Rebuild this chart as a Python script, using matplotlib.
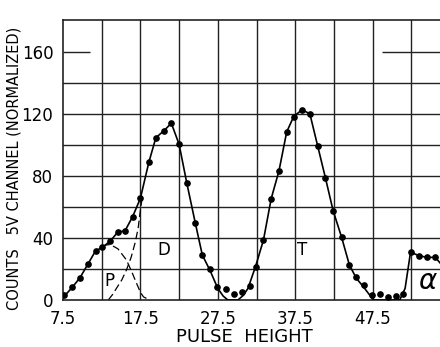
import numpy as np
import matplotlib.pyplot as plt

# measured points (pulse height channel, normalized counts)
x_pts = [7.6, 8.7, 9.7, 10.7, 11.7, 12.6, 13.6, 14.6, 15.5, 16.5,
         17.5, 18.6, 19.5, 20.5, 21.5, 22.5, 23.5, 24.6, 25.5, 26.5,
         27.4, 28.5, 29.6, 30.6, 31.6, 32.4, 33.4, 34.4, 35.4, 36.4,
         37.3, 38.4, 39.4, 40.4, 41.4, 42.4, 43.5, 44.5, 45.4, 46.4,
         47.4, 48.5, 49.5, 50.5, 51.4, 52.4, 53.5, 54.5, 55.6]
y_pts = [3.2, 8.2, 14.4, 23.0, 31.6, 34.0, 38.0, 43.9, 44.5, 53.8,
         65.6, 89.0, 104.7, 109.0, 114.0, 100.4, 75.3, 49.5, 29.0, 20.0,
         8.2, 6.9, 3.9, 5.2, 9.2, 21.5, 38.7, 65.4, 83.2, 108.4,
         118.3, 122.8, 120.0, 99.4, 78.9, 57.6, 40.4, 22.6, 14.6, 9.7,
         3.2, 3.7, 2.2, 2.6, 3.9, 30.8, 28.6, 27.5, 27.5]

# hand drawn fit curve through the data
x_fit = [7.5, 8.7, 9.7, 10.7, 11.7, 12.6, 13.6, 14.6, 15.5, 16.5,
         17.5, 18.6, 19.5, 20.5, 21.5, 22.5, 23.5, 24.6, 25.5, 26.5,
         27.5, 28.2, 28.8, 30.1, 30.8, 31.4, 32.4, 33.4, 34.4, 35.4,
         36.4, 37.3, 38.4, 39.4, 40.4, 41.4, 42.4, 43.5, 44.5, 45.4,
         46.3, 47.0, 47.6, 51.0, 51.7, 52.4, 53.5, 54.5, 55.6, 56.2]
y_fit = [1.5, 8.2, 14.4, 23.0, 31.6, 34.0, 38.0, 43.9, 44.5, 53.8,
         65.6, 89.0, 104.7, 109.0, 114.0, 100.4, 75.3, 49.5, 29.0, 19.0,
         7.5, 2.5, 0.0, 0.0, 3.0, 7.5, 22.0, 38.7, 65.4, 83.2,
         108.4, 118.3, 122.8, 120.0, 99.4, 78.9, 57.6, 40.4, 22.6, 14.0,
         8.6, 4.0, 0.0, 0.0, 7.5, 30.8, 28.6, 27.5, 27.5, 24.0]

# dashed component curves
x_p = [12.6, 13.1, 13.6, 14.6, 15.7, 16.4, 17.0, 17.5, 17.9, 18.7]
y_p = [34.5, 35.5, 35.8, 33.0, 25.8, 18.0, 10.8, 5.0, 2.0, 0.0]
x_d = [13.35, 13.9, 14.4, 15.1, 15.7, 16.3, 16.8, 17.2, 17.45, 17.7]
y_d = [0.0, 3.5, 7.5, 13.0, 19.4, 27.5, 36.6, 46.0, 56.0, 65.0]

x_ticks = [7.5, 17.5, 27.5, 37.5, 47.5]
y_ticks = [0, 40, 80, 120, 160]

fig = plt.figure(figsize=(4.4, 3.47), dpi=100)
ax = fig.add_axes([63/440, 47/347, 1 - 63/440, 280/347])

ax.set_xlim(7.5, 7.5 + 377/7.74)
ax.set_ylim(0, 180.6)

gc = '#222222'
for xv in np.arange(12.5, 56, 5):
    ax.axvline(xv, color=gc, lw=1.0, zorder=1)
for yv in [20, 40, 60, 80, 100, 120, 140]:
    ax.axhline(yv, color=gc, lw=1.0, zorder=1)
# the 160 line is only drawn near the edges
ax.hlines(160, 7.5, 11.0, color=gc, lw=1.0, zorder=1)
ax.hlines(160, 48.7, 57, color=gc, lw=1.0, zorder=1)

ax.plot(x_fit, y_fit, color='black', lw=1.2, zorder=3)
ax.plot(x_pts, y_pts, 'o', color='black', ms=3.8, zorder=4)
ax.plot(x_p, y_p, color='black', lw=0.9, dashes=(6, 3), zorder=2)
ax.plot(x_d, y_d, color='black', lw=0.9, dashes=(6, 3), zorder=2)

ax.text(13.5, 12, 'P', fontsize=12, ha='center', va='center')
ax.text(20.5, 32, 'D', fontsize=12, ha='center', va='center')
ax.text(38.4, 32, 'T', fontsize=12, ha='center', va='center')
ax.text(54.6, 12, r'$\alpha$', fontsize=20, ha='center', va='center')

ax.spines['right'].set_visible(False)
for s in ['top', 'left', 'bottom']:
    ax.spines[s].set_color(gc)
    ax.spines[s].set_linewidth(1.2)

ax.set_xticks(x_ticks)
ax.set_xticklabels(['7.5', '17.5', '27.5', '37.5', '47.5'])
ax.set_yticks(y_ticks)
ax.tick_params(length=0, labelsize=12, pad=7)
ax.set_xlabel('PULSE  HEIGHT', fontsize=13, va='center')
ax.xaxis.set_label_coords(0.48, -0.133)
ax.set_ylabel('COUNTS   5V CHANNEL (NORMALIZED)', fontsize=10.5, va='center')
ax.yaxis.set_label_coords(-0.13, 0.47)

fig.savefig('out.png', dpi=100)
